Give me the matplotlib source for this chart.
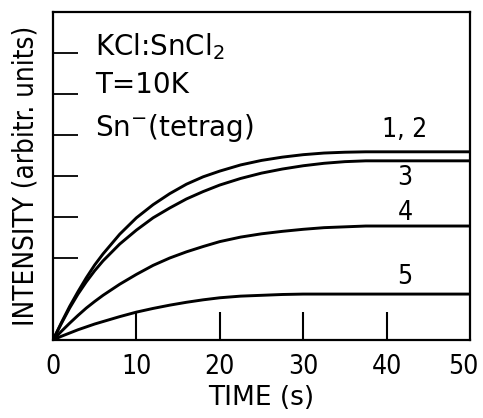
import matplotlib
matplotlib.use("Agg")
import matplotlib.pyplot as plt
import matplotlib.transforms as mtransforms

# values (time in s, intensity in arbitrary units)
time = [0, 1, 2, 3, 4, 5, 6, 8, 10, 12, 14, 16, 18, 20, 22.5, 25, 27.5, 30, 32.5, 35, 37.5, 40, 45, 50]
curve_12 = [0, 0.42, 0.82, 1.18, 1.52, 1.83, 2.1, 2.58, 2.98, 3.3, 3.57, 3.8, 3.98, 4.12,
            4.27, 4.38, 4.46, 4.52, 4.56, 4.58, 4.59, 4.59, 4.59, 4.59]
curve_3 = [0, 0.4, 0.78, 1.12, 1.42, 1.69, 1.93, 2.34, 2.68, 2.98, 3.22, 3.44, 3.62, 3.78,
           3.94, 4.07, 4.17, 4.25, 4.31, 4.35, 4.37, 4.37, 4.37, 4.37]
curve_4 = [0, 0.21, 0.41, 0.6, 0.78, 0.94, 1.09, 1.36, 1.6, 1.82, 2.0, 2.15, 2.28, 2.4,
           2.51, 2.59, 2.65, 2.7, 2.74, 2.76, 2.78, 2.78, 2.78, 2.78]
curve_5 = [0, 0.09, 0.17, 0.25, 0.32, 0.39, 0.45, 0.57, 0.68, 0.77, 0.85, 0.92, 0.98, 1.03,
           1.07, 1.09, 1.11, 1.12, 1.12, 1.12, 1.12, 1.12, 1.12, 1.12]
curve_labels = ["1, 2", "3", "4", "5"]
label_y = [5.12, 3.95, 3.1, 1.54]
x_ticks = [0, 10, 20, 30, 40, 50]

plt.rcParams["mathtext.default"] = "regular"
plt.rcParams["font.family"] = "DejaVu Sans"

fig = plt.figure(figsize=(4.83, 4.18), dpi=100)
ax = fig.add_axes([0.1097, 0.1866, 0.8634, 0.7847])

for c in [curve_12, curve_3, curve_4, curve_5]:
    ax.plot(time, c, color="black", lw=2.1, solid_joinstyle="round")

for lab, y in zip(curve_labels, label_y):
    ax.text(42.2, y, lab, fontsize=19, ha="center", va="center", fontstretch="condensed")

ax.text(5.0, 7.15, "KCl:SnCl$_2$", fontsize=20, ha="left", va="center")
ax.text(5.0, 6.22, "T=10K", fontsize=20, ha="left", va="center")
ax.text(5.0, 5.17, "Sn$^{-}$(tetrag)", fontsize=20, ha="left", va="center")

ax.set_xlim(0, 50)
ax.set_ylim(0, 8)
ax.set_xticks(x_ticks)
ax.set_yticks([2, 3, 4, 5, 6, 7])
ax.set_yticklabels([])
ax.tick_params(axis="x", direction="in", length=20, width=1.5, labelsize=19, pad=10)
ax.tick_params(axis="y", direction="in", length=18, width=1.3)
ax.xaxis.get_major_ticks()[0].tick1line.set_visible(False)
ax.xaxis.get_major_ticks()[-1].tick1line.set_visible(False)
for lbl in ax.get_xticklabels():
    lbl.set_fontstretch("condensed")
# pull the "50" a little to the left so it stays inside the figure
last = ax.xaxis.get_major_ticks()[-1].label1
last.set_transform(last.get_transform() + mtransforms.ScaledTranslation(-5 / 72, 0, fig.dpi_scale_trans))
for s in ax.spines.values():
    s.set_linewidth(1.6)

ax.set_xlabel("TIME (s)", fontsize=19, labelpad=4)
ax.set_ylabel("INTENSITY (arbitr. units)", fontsize=20, labelpad=6,
              fontstretch="condensed")

fig.savefig("out.png", dpi=100)
